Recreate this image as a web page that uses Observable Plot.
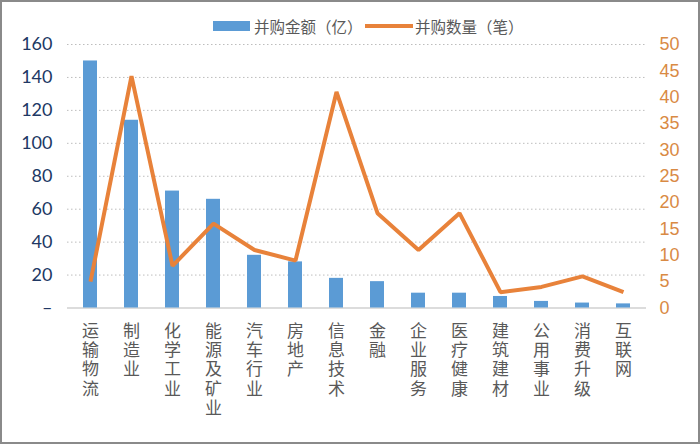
<!DOCTYPE html>
<html>
<head>
<meta charset="utf-8">
<script src="https://cdn.jsdelivr.net/npm/d3@7"></script>
<script src="https://cdn.jsdelivr.net/npm/@observablehq/plot@0.6"></script>
<style>
  body { margin: 0; background: #fff; }
  #wrap { position: relative; width: 700px; height: 444px; overflow: hidden; background: #fff; }
  #chart { position: absolute; left: 0; top: 0; }
  #frame { position: absolute; left: 0; top: 0; width: 700px; height: 444px; box-sizing: border-box; border: 2px solid #8a8a8a; pointer-events: none; }
  .leg { position: absolute; top: 17px; font-family: "Noto Sans CJK SC", sans-serif; font-size: 15.5px; color: #595959; line-height: 18px; white-space: nowrap; }
  .sw { position: absolute; }
</style>
</head>
<body>
<div id="wrap">
  <div id="chart"></div>
  <div class="sw" style="left:213px; top:21px; width:37px; height:10px; background:#5b9bd5;"></div>
  <div class="leg" id="leg1" style="left:254px;"></div>
  <div class="sw" style="left:365px; top:24px; width:48px; height:4px; background:#e8823a;"></div>
  <div class="leg" id="leg2" style="left:415px;"></div>
  <div id="frame"></div>
</div>
<script>
const categories = ["运输物流","制造业","化学工业","能源及矿业","汽车行业","房地产","信息技术","金融","企业服务","医疗健康","建筑建材","公用事业","消费升级","互联网"];
const amount = [150, 114, 71, 66, 32, 28, 18, 16, 9, 9, 7, 4, 3, 2.5];
const count = [5, 44, 8, 16, 11, 9, 41, 18, 11, 18, 3, 4, 6, 3];
const seriesNames = ["并购金额（亿）", "并购数量（笔）"];
const leftTicks = [0, 20, 40, 60, 80, 100, 120, 140, 160];
const rightTicks = [0, 5, 10, 15, 20, 25, 30, 35, 40, 45, 50];

const leftMax = 160, rightMax = 50;
const k = leftMax / rightMax;
const data = categories.map((c, i) => ({cat: c, amount: amount[i], count: count[i]}));

document.getElementById("leg1").textContent = seriesNames[0];
document.getElementById("leg2").textContent = seriesNames[1];

const chart = Plot.plot({
  width: 700,
  height: 444,
  marginLeft: 67,
  marginRight: 54,
  marginTop: 44,
  marginBottom: 136.5,
  x: {type: "band", domain: categories, paddingInner: 0.66, paddingOuter: 0.33},
  y: {domain: [0, leftMax]},
  marks: [
    Plot.gridY(leftTicks.filter(d => d > 0), {stroke: "#bdbdbd", strokeOpacity: 1, strokeDasharray: "1.5,2.5", strokeWidth: 1}),
    Plot.ruleY([0], {stroke: "#d0d0d0", strokeWidth: 1.5}),
    Plot.barY(data, {x: "cat", y: "amount", fill: "#5b9bd5"}),
    Plot.line(data, {x: "cat", y: d => d.count * k, stroke: "#e8823a", strokeWidth: 4, strokeLinejoin: "miter", strokeLinecap: "butt"}),
    Plot.axisY(leftTicks, {anchor: "left", label: null, tickSize: 0, tickPadding: 15, tickFormat: d => d === 0 ? "–" : String(d), fontSize: 18, fontFamily: "Lato, sans-serif", fill: "#203864", color: "#203864"}),
    Plot.axisY(rightTicks.map(d => d * k), {anchor: "right", label: null, tickSize: 0, tickPadding: 13, tickFormat: d => String(Math.round(d / k)), fontSize: 18, fontFamily: "'Liberation Sans', Arial, sans-serif", fill: "#d98a44", color: "#d98a44"}),
    Plot.axisX({label: null, tickSize: 0, tickPadding: 15, tickFormat: d => d.split("").join("\n"), fontSize: 17, lineHeight: 1.135, fontFamily: "'Noto Sans CJK SC', sans-serif", fill: "#595959", color: "#595959"})
  ]
});
document.getElementById("chart").appendChild(chart);
</script>
</body>
</html>
